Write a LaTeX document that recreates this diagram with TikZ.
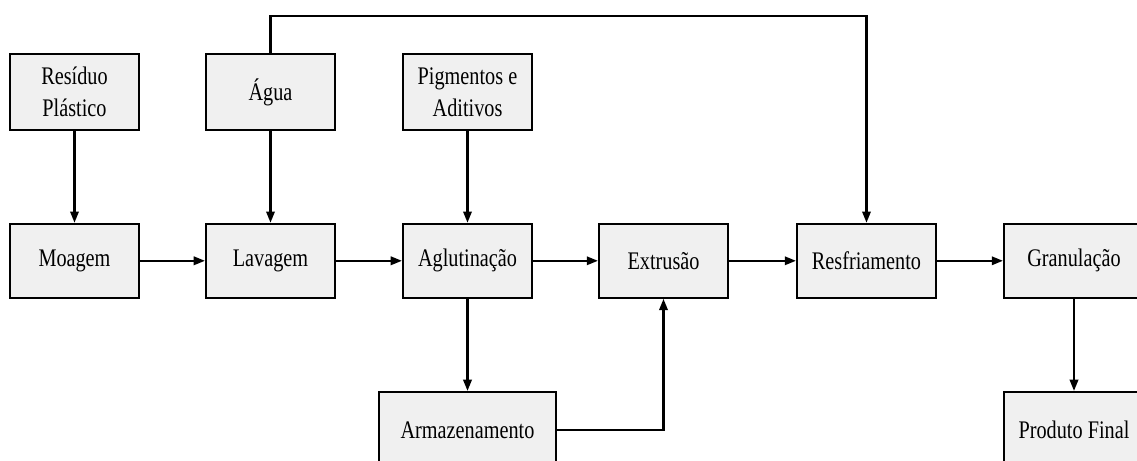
\documentclass[tikz,border=0pt]{standalone}
\usepackage{fontspec}
\setmainfont[FakeStretch=0.8]{Liberation Serif}
\usetikzlibrary{arrows.meta}

\begin{document}
\begin{tikzpicture}[
    >={Triangle[length=2.8mm,width=2.1mm]},
    line width=1.5pt,
    every node/.style={font=\fontsize{18}{22.5}\selectfont},
    bloco/.style={draw, fill=black!6, align=center, inner sep=0pt,
        minimum width=3.225cm, minimum height=1.85cm}
]

\useasboundingbox (0,0) rectangle (28.425,-11.525);
\clip (0,0) rectangle (28.425,-11.525);

\node[bloco, minimum height=1.9cm] (res) at (1.8625,-2.3) {Resíduo\\Plástico};
\node[bloco, minimum height=1.9cm] (agua) at (6.7625,-2.3) {Água};
\node[bloco, minimum height=1.9cm] (pig) at (11.6875,-2.3) {Pigmentos e\\Aditivos};

\node[bloco] (moa) at (1.8625,-6.52) {Moagem};
\node[bloco] (lav) at (6.7625,-6.52) {Lavagem};
\node[bloco] (agl) at (11.6875,-6.52) {Aglutinação};
\node[bloco] (ext) at (16.5875,-6.52) {Extrusão};
\node[bloco, minimum width=3.475cm] (resf) at (21.6625,-6.52) {Resfriamento};
\node[bloco, minimum width=3.5cm] (gran) at (26.85,-6.52) {Granulação};

\node[bloco, minimum width=4.425cm, minimum height=1.9cm] (arm) at (11.6875,-10.75) {Armazenamento};
\node[bloco, minimum width=3.5cm, minimum height=1.9cm] (prod) at (26.85,-10.75) {Produto Final};

\coordinate (topo) at (6.7625,-0.39);

\draw[->] (res) -- (moa);
\draw[->] (agua) -- (lav);
\draw[->] (pig) -- (agl);

\draw[->] (moa) -- (lav);
\draw[->] (lav) -- (agl);
\draw[->] (agl) -- (ext);
\draw[->] (ext) -- (resf);
\draw[->] (resf) -- (gran);

\draw[->] (agl) -- (arm);
\draw[->] (arm.east) -| (ext.south);
\draw[->] (gran) -- (prod);

\draw[->] (agua.north) -- (topo) -| (resf.north);

\end{tikzpicture}
\end{document}
